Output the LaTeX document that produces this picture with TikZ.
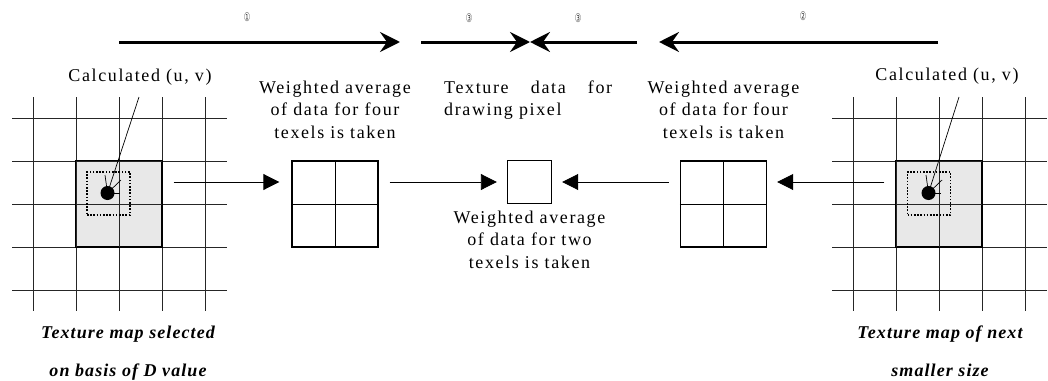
\documentclass[tikz,border=0pt]{standalone}
\usepackage{fontspec}
\setmainfont{Liberation Serif}
\newfontfamily\lsfont[LetterSpace=9]{Liberation Serif}
\newfontfamily\capfont[LetterSpace=6]{Liberation Serif}
\newfontfamily\symfont{DejaVu Sans}
\usetikzlibrary{arrows.meta}
\tikzset{
  gridline/.style={line width=0.9pt, black!85},
  graysq/.style={draw, line width=1.4pt, fill=black!9, minimum size=86pt, inner sep=0pt},
  texbox/.style={draw, line width=1.4pt, inner sep=0pt, minimum width=86pt, minimum height=86pt},
  smallbox/.style={draw, line width=1.4pt, inner sep=0pt, minimum width=44pt, minimum height=43pt},
  divider/.style={line width=0.9pt},
  dotsq/.style={draw, line width=1.6pt, dash pattern=on 1.6pt off 1.6pt, minimum size=43pt, inner sep=0pt},
  texdot/.style={circle, fill=black, minimum size=14pt, inner sep=0pt},
  bigarrow/.style={line width=3pt, -{Stealth[length=20pt,width=20pt,inset=7pt]}},
  thinarrow/.style={line width=0.9pt, -{Triangle[length=16pt,width=16pt]}},
  leader/.style={line width=0.7pt},
  lbl/.style={font=\lsfont\fontsize{18}{22.5}\selectfont, inner sep=0pt, align=center},
  capt/.style={font=\capfont\bfseries\itshape\fontsize{18}{38}\selectfont, inner sep=0pt, align=center},
  digit/.style={font=\symfont\fontsize{12}{12}\selectfont, text=black!75, xscale=0.6, inner sep=0pt}
}
\begin{document}
\begin{tikzpicture}[x=1pt,y=-1pt]
\useasboundingbox (0,0) rectangle (1048,380);
% ---------- top arrows ----------
\coordinate (t1s) at (119,42);
\coordinate (t1e) at (400,42);
\coordinate (t3a) at (421,42);
\coordinate (tm) at (530,42);
\coordinate (t3b) at (637,42);
\coordinate (t2s) at (938,42);
\coordinate (t2e) at (659,42);
\draw[bigarrow] (t1s) -- (t1e);
\draw[bigarrow] (t3a) -- (tm);
\draw[bigarrow] (t3b) -- (tm);
\draw[bigarrow] (t2s) -- (t2e);
\node[digit] (d1) at (247,17) {①};
\node[digit] (d3a) at (469,18) {③};
\node[digit] (d3b) at (578,18) {③};
\node[digit] (d2) at (803,16) {②};
% ---------- left texture map ----------
\node[graysq] (gL) at (119,204) {};
\foreach \x in {33,76,119,162,205} \draw[gridline] (\x,97) -- (\x,311);
\foreach \y in {118,161,204,247,290} \draw[gridline] (12,\y) -- (227,\y);
\draw[line width=1.4pt] (gL.north west) rectangle (gL.south east);
\node[dotsq] (qL) at (108.5,193.5) {};
\node[texdot] (pL) at (107.5,193) {};
\coordinate (cL) at (139,97);
\coordinate (kL1) at (105,175);
\coordinate (kL2) at (121,180);
\coordinate (kL3) at (120,193);
\draw[leader] (pL.center) -- (cL);
\draw[leader] (pL.center) -- (kL1);
\draw[leader] (pL.center) -- (kL2);
\draw[leader] (pL.center) -- (kL3);
\node[lbl, anchor=base] (uvL) at (140,81) {Calculated (u, v)};
\node[capt, anchor=base] (capL) at (128,376) {Texture map selected\\on basis of D value};
% ---------- right texture map ----------
\node[graysq] (gR) at (939,204) {};
\foreach \x in {853,896,939,982,1025} \draw[gridline] (\x,97) -- (\x,311);
\foreach \y in {118,161,204,247,290} \draw[gridline] (832,\y) -- (1047,\y);
\draw[line width=1.4pt] (gR.north west) rectangle (gR.south east);
\node[dotsq] (qR) at (929,193.5) {};
\node[texdot] (pR) at (928.5,193) {};
\coordinate (cR) at (959,97);
\coordinate (kR1) at (926,175);
\coordinate (kR2) at (942,180);
\coordinate (kR3) at (941,193);
\draw[leader] (pR.center) -- (cR);
\draw[leader] (pR.center) -- (kR1);
\draw[leader] (pR.center) -- (kR2);
\draw[leader] (pR.center) -- (kR3);
\node[lbl, anchor=base] (uvR) at (947,80) {Calculated (u, v)};
\node[capt, anchor=base] (capR) at (940,376) {Texture map of next\\smaller size};
% ---------- middle boxes ----------
\node[texbox] (b1) at (335,204) {};
\draw[divider] (b1.north) -- (b1.south);
\draw[divider] (b1.west) -- (b1.east);
\node[smallbox] (sb) at (529.5,182) {};
\node[texbox] (b2) at (723.5,204) {};
\draw[divider] (b2.north) -- (b2.south);
\draw[divider] (b2.west) -- (b2.east);
% ---------- middle arrows ----------
\draw[thinarrow] ([xshift=11pt,yshift=22pt]gL.east) -- ([xshift=-12pt,yshift=22pt]b1.west);
\draw[thinarrow] ([xshift=11pt,yshift=22pt]b1.east) -- ([xshift=-10pt]sb.west);
\draw[thinarrow] ([xshift=-11pt,yshift=22pt]b2.west) -- ([xshift=10pt]sb.east);
\draw[thinarrow] ([xshift=-11pt,yshift=22pt]gR.west) -- ([xshift=10pt,yshift=22pt]b2.east);
% ---------- texts ----------
\node[lbl, anchor=base] (wL) at (335,138) {Weighted average\\of data for four\\texels is taken};
\node[lbl, anchor=base] (wR) at (723.5,138) {Weighted average\\of data for four\\texels is taken};
\node[lbl, anchor=base west, align=left] (td) at (444,115.5) {\makebox[168pt][s]{Texture data for}\\drawing pixel};
\node[lbl, anchor=base] (wM) at (529.5,268) {Weighted average\\of data for two\\texels is taken};
\end{tikzpicture}
\end{document}
